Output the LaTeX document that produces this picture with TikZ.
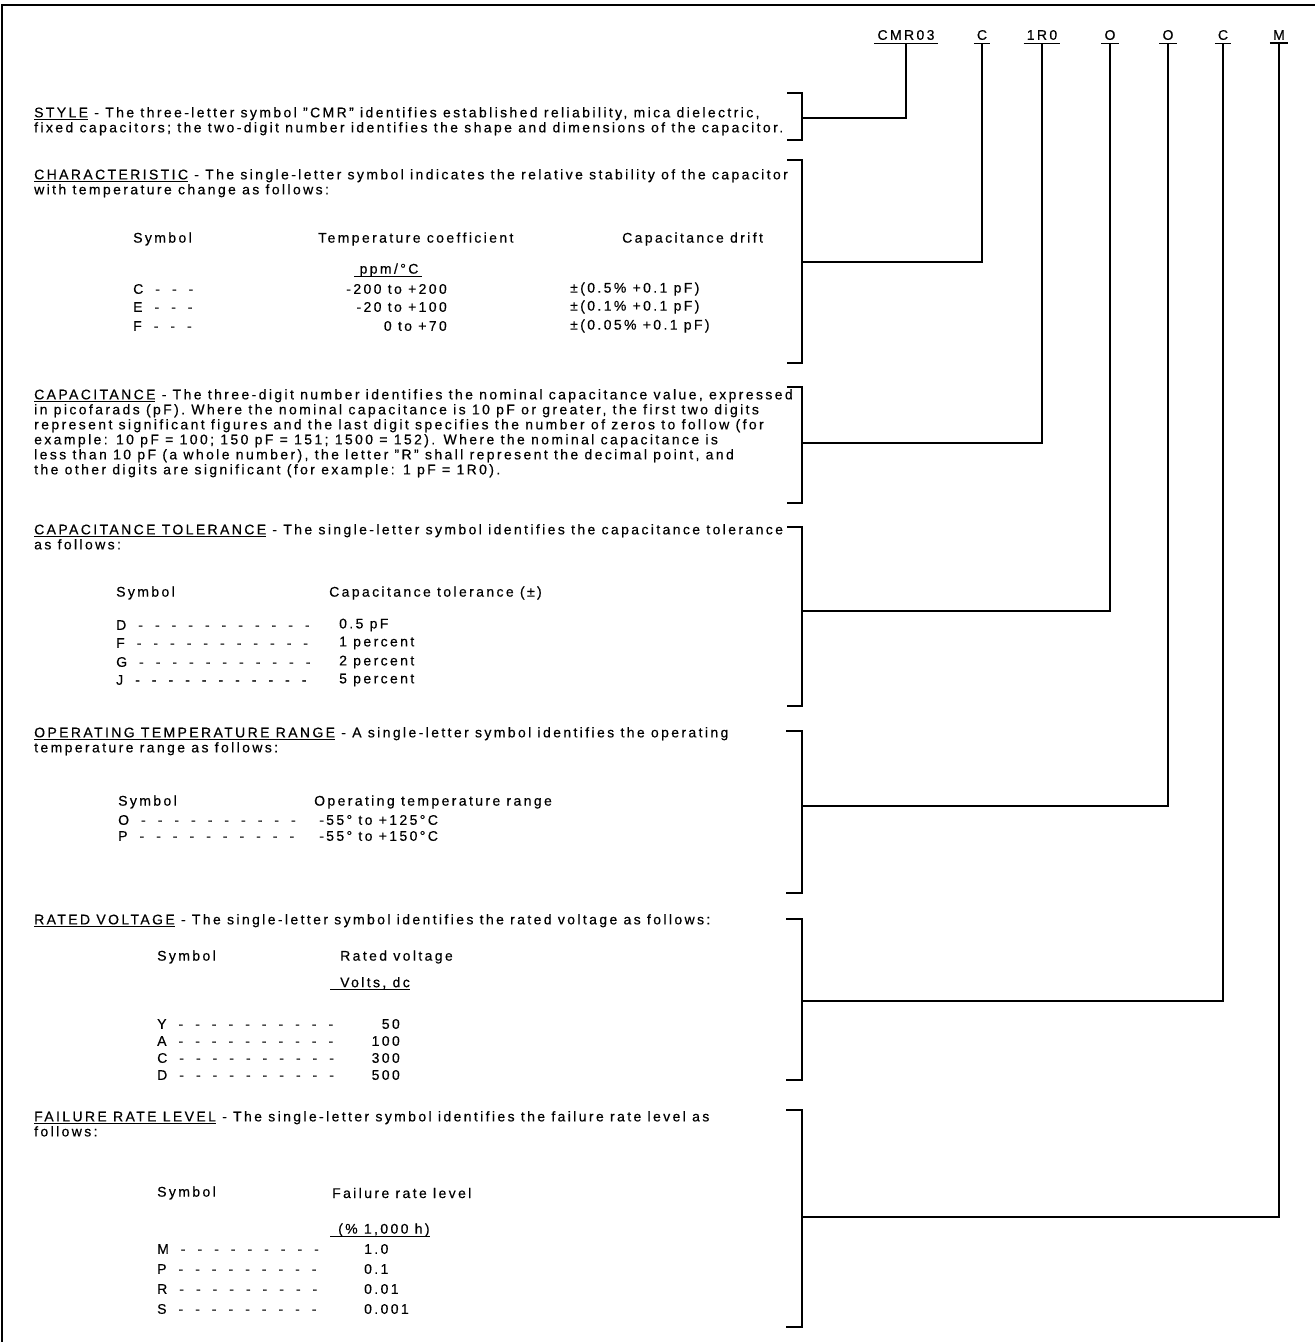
\documentclass[tikz,border=0pt]{standalone}
\usepackage{fontspec}
\setmainfont{Liberation Sans}[LetterSpace=17,FakeBold=0.4]
\tikzset{
  para/.style={anchor=north west,inner sep=0pt,align=left,font=\fontsize{14}{15}\selectfont},
  cell/.style={anchor=west,inner sep=0pt,font=\fontsize{14}{15}\selectfont},
  code/.style={inner xsep=3pt,inner ysep=3pt,font=\fontsize{14}{15}\selectfont},
  wire/.style={line width=1.3pt},
  brace/.style={line width=1.4pt},
  hair/.style={line width=0.9pt}
}
\newcommand{\hd}[1]{\underline{#1}}
\newcommand{\dashes}[1]{\foreach \i in {1,...,#1}{\hskip 12pt-}}

\begin{document}
\begin{tikzpicture}[x=1pt,y=-1pt]
  \useasboundingbox (0,0) rectangle (1315,1342);
  \draw[brace] (2,1342) -- (2,5) -- (1315,5);

  \node[code] (cmr) at (906,35) {CMR03};
  \node[code] (chr) at (982,35) {C};
  \node[code] (cap) at (1042,35) {1R0};
  \node[code] (tol) at (1110,35) {O};
  \node[code] (otr) at (1168,35) {O};
  \node[code] (rv) at (1223,35) {C};
  \node[code] (frl) at (1279,35) {M};
  \draw[wire] (cmr.south west) -- (cmr.south east);
  \draw[wire] (chr.south west) -- (chr.south east);
  \draw[wire] (cap.south west) -- (cap.south east);
  \draw[wire] (tol.south west) -- (tol.south east);
  \draw[wire] (otr.south west) -- (otr.south east);
  \draw[wire] (rv.south west) -- (rv.south east);
  \draw[wire] (frl.south west) -- (frl.south east);

  \draw[brace] (787,93) -- (802,93) -- (802,140) -- (787,140);
  \draw[brace] (787,160) -- (802,160) -- (802,363) -- (787,363);
  \draw[brace] (787,387) -- (802,387) -- (802,503) -- (787,503);
  \draw[brace] (787,527) -- (802,527) -- (802,706) -- (787,706);
  \draw[brace] (786,731) -- (802,731) -- (802,893) -- (786,893);
  \draw[brace] (786,919) -- (802,919) -- (802,1080) -- (786,1080);
  \draw[brace] (786,1110) -- (802,1110) -- (802,1327) -- (786,1327);
  \coordinate (jcmr) at (802,118);
  \coordinate (jchr) at (802,262);
  \coordinate (jcap) at (802,443);
  \coordinate (jtol) at (802,611);
  \coordinate (jotr) at (802,806);
  \coordinate (jrv) at (802,1001);
  \coordinate (jfrl) at (802,1217);
  \draw[wire] (cmr.south) |- (jcmr);
  \draw[wire] (chr.south) |- (jchr);
  \draw[wire] (cap.south) |- (jcap);
  \draw[wire] (tol.south) |- (jtol);
  \draw[wire] (otr.south) |- (jotr);
  \draw[wire] (rv.south) |- (jrv);
  \draw[wire] (frl.south) |- (jfrl);

  \node[para] (sty) at (34,107) {\hd{STYLE} - The three-letter symbol "CMR" identifies established reliability, mica dielectric,\\
    fixed capacitors; the two-digit number identifies the shape and dimensions of the capacitor.};

  \node[para] (chrtxt) at (34,169) {\hd{CHARACTERISTIC} - The single-letter symbol indicates the relative stability of the capacitor\\
    with temperature change as follows:};
  \node[cell] (chrsym) at (133,239) {Symbol};
  \node[cell] (chrtc) at (318,239) {Temperature coefficient};
  \node[cell] (chrdr) at (622,239) {Capacitance drift};
  \node[cell,anchor=center] (chrunit) at (389,270) {ppm/°C};
  \draw[hair] ([xshift=-5pt]chrunit.south west) -- ([xshift=3pt]chrunit.south east);
  \node[cell] (chrc) at (133,289) {C\dashes{3}};
  \node[cell,anchor=east] (chrct) at (447,289) {-200 to +200};
  \node[cell] (chrcd) at (570,289) {±(0.5\% +0.1 pF)};
  \node[cell] (chre) at (133,307) {E\dashes{3}};
  \node[cell,anchor=east] (chret) at (447,307) {-20 to +100};
  \node[cell] (chred) at (570,307) {±(0.1\% +0.1 pF)};
  \node[cell] (chrf) at (133,326) {F\dashes{3}};
  \node[cell,anchor=east] (chrft) at (447,326) {0 to +70};
  \node[cell] (chrfd) at (570,326) {±(0.05\% +0.1 pF)};

  \node[para] (captxt) at (34,389) {\hd{CAPACITANCE} - The three-digit number identifies the nominal capacitance value, expressed\\
    in picofarads (pF). Where the nominal capacitance is 10 pF or greater, the first two digits\\
    represent significant figures and the last digit specifies the number of zeros to follow (for\\
    example: 10 pF = 100; 150 pF = 151; 1500 = 152). Where the nominal capacitance is\\
    less than 10 pF (a whole number), the letter "R" shall represent the decimal point, and\\
    the other digits are significant (for example: 1 pF = 1R0).};

  \node[para] (toltxt) at (34,524) {\hd{CAPACITANCE TOLERANCE} - The single-letter symbol identifies the capacitance tolerance\\
    as follows:};
  \node[cell] (tolsym) at (116,593) {Symbol};
  \node[cell] (tolhd) at (329,593) {Capacitance tolerance (±)};
  \node[cell] (told) at (116,625) {D\dashes{11}};
  \node[cell] (toldv) at (339,625) {0.5 pF};
  \node[cell] (tolf) at (116,643) {F\dashes{11}};
  \node[cell] (tolfv) at (339,643) {1 percent};
  \node[cell] (tolg) at (116,662) {G\dashes{11}};
  \node[cell] (tolgv) at (339,662) {2 percent};
  \node[cell] (tolj) at (116,680) {J\dashes{11}};
  \node[cell] (toljv) at (339,680) {5 percent};

  \node[para] (otrtxt) at (34,727) {\hd{OPERATING TEMPERATURE RANGE} - A single-letter symbol identifies the operating\\
    temperature range as follows:};
  \node[cell] (otrsym) at (118,802) {Symbol};
  \node[cell] (otrhd) at (314,802) {Operating temperature range};
  \node[cell] (otro) at (118,820) {O\dashes{10}};
  \node[cell] (otrov) at (319,820) {-55° to +125°C};
  \node[cell] (otrp) at (118,836) {P\dashes{10}};
  \node[cell] (otrpv) at (319,836) {-55° to +150°C};

  \node[para] (rvtxt) at (34,914) {\hd{RATED VOLTAGE} - The single-letter symbol identifies the rated voltage as follows:};
  \node[cell] (rvsym) at (157,957) {Symbol};
  \node[cell] (rvhd) at (340,957) {Rated voltage};
  \node[cell] (rvunit) at (340,983) {Volts, dc};
  \draw[hair] ([xshift=-10pt]rvunit.south west) -- (rvunit.south east);
  \node[cell] (rvy) at (157,1024) {Y\dashes{10}};
  \node[cell,anchor=east] (rvyv) at (400,1024) {50};
  \node[cell] (rva) at (157,1041) {A\dashes{10}};
  \node[cell,anchor=east] (rvav) at (400,1041) {100};
  \node[cell] (rvc) at (157,1058) {C\dashes{10}};
  \node[cell,anchor=east] (rvcv) at (400,1058) {300};
  \node[cell] (rvd) at (157,1075) {D\dashes{10}};
  \node[cell,anchor=east] (rvdv) at (400,1075) {500};

  \node[para] (frltxt) at (34,1111) {\hd{FAILURE RATE LEVEL} - The single-letter symbol identifies the failure rate level as\\
    follows:};
  \node[cell] (frlsym) at (157,1193) {Symbol};
  \node[cell] (frlhd) at (332,1193) {Failure rate level};
  \node[cell] (frlunit) at (338,1230) {(\% 1,000 h)};
  \draw[hair] ([xshift=-8pt]frlunit.south west) -- (frlunit.south east);
  \node[cell] (frlm) at (157,1249) {M\dashes{9}};
  \node[cell] (frlmv) at (364,1249) {1.0};
  \node[cell] (frlp) at (157,1269) {P\dashes{9}};
  \node[cell] (frlpv) at (364,1269) {0.1};
  \node[cell] (frlr) at (157,1289) {R\dashes{9}};
  \node[cell] (frlrv) at (364,1289) {0.01};
  \node[cell] (frls) at (157,1309) {S\dashes{9}};
  \node[cell] (frlsv) at (364,1309) {0.001};
\end{tikzpicture}
\end{document}
